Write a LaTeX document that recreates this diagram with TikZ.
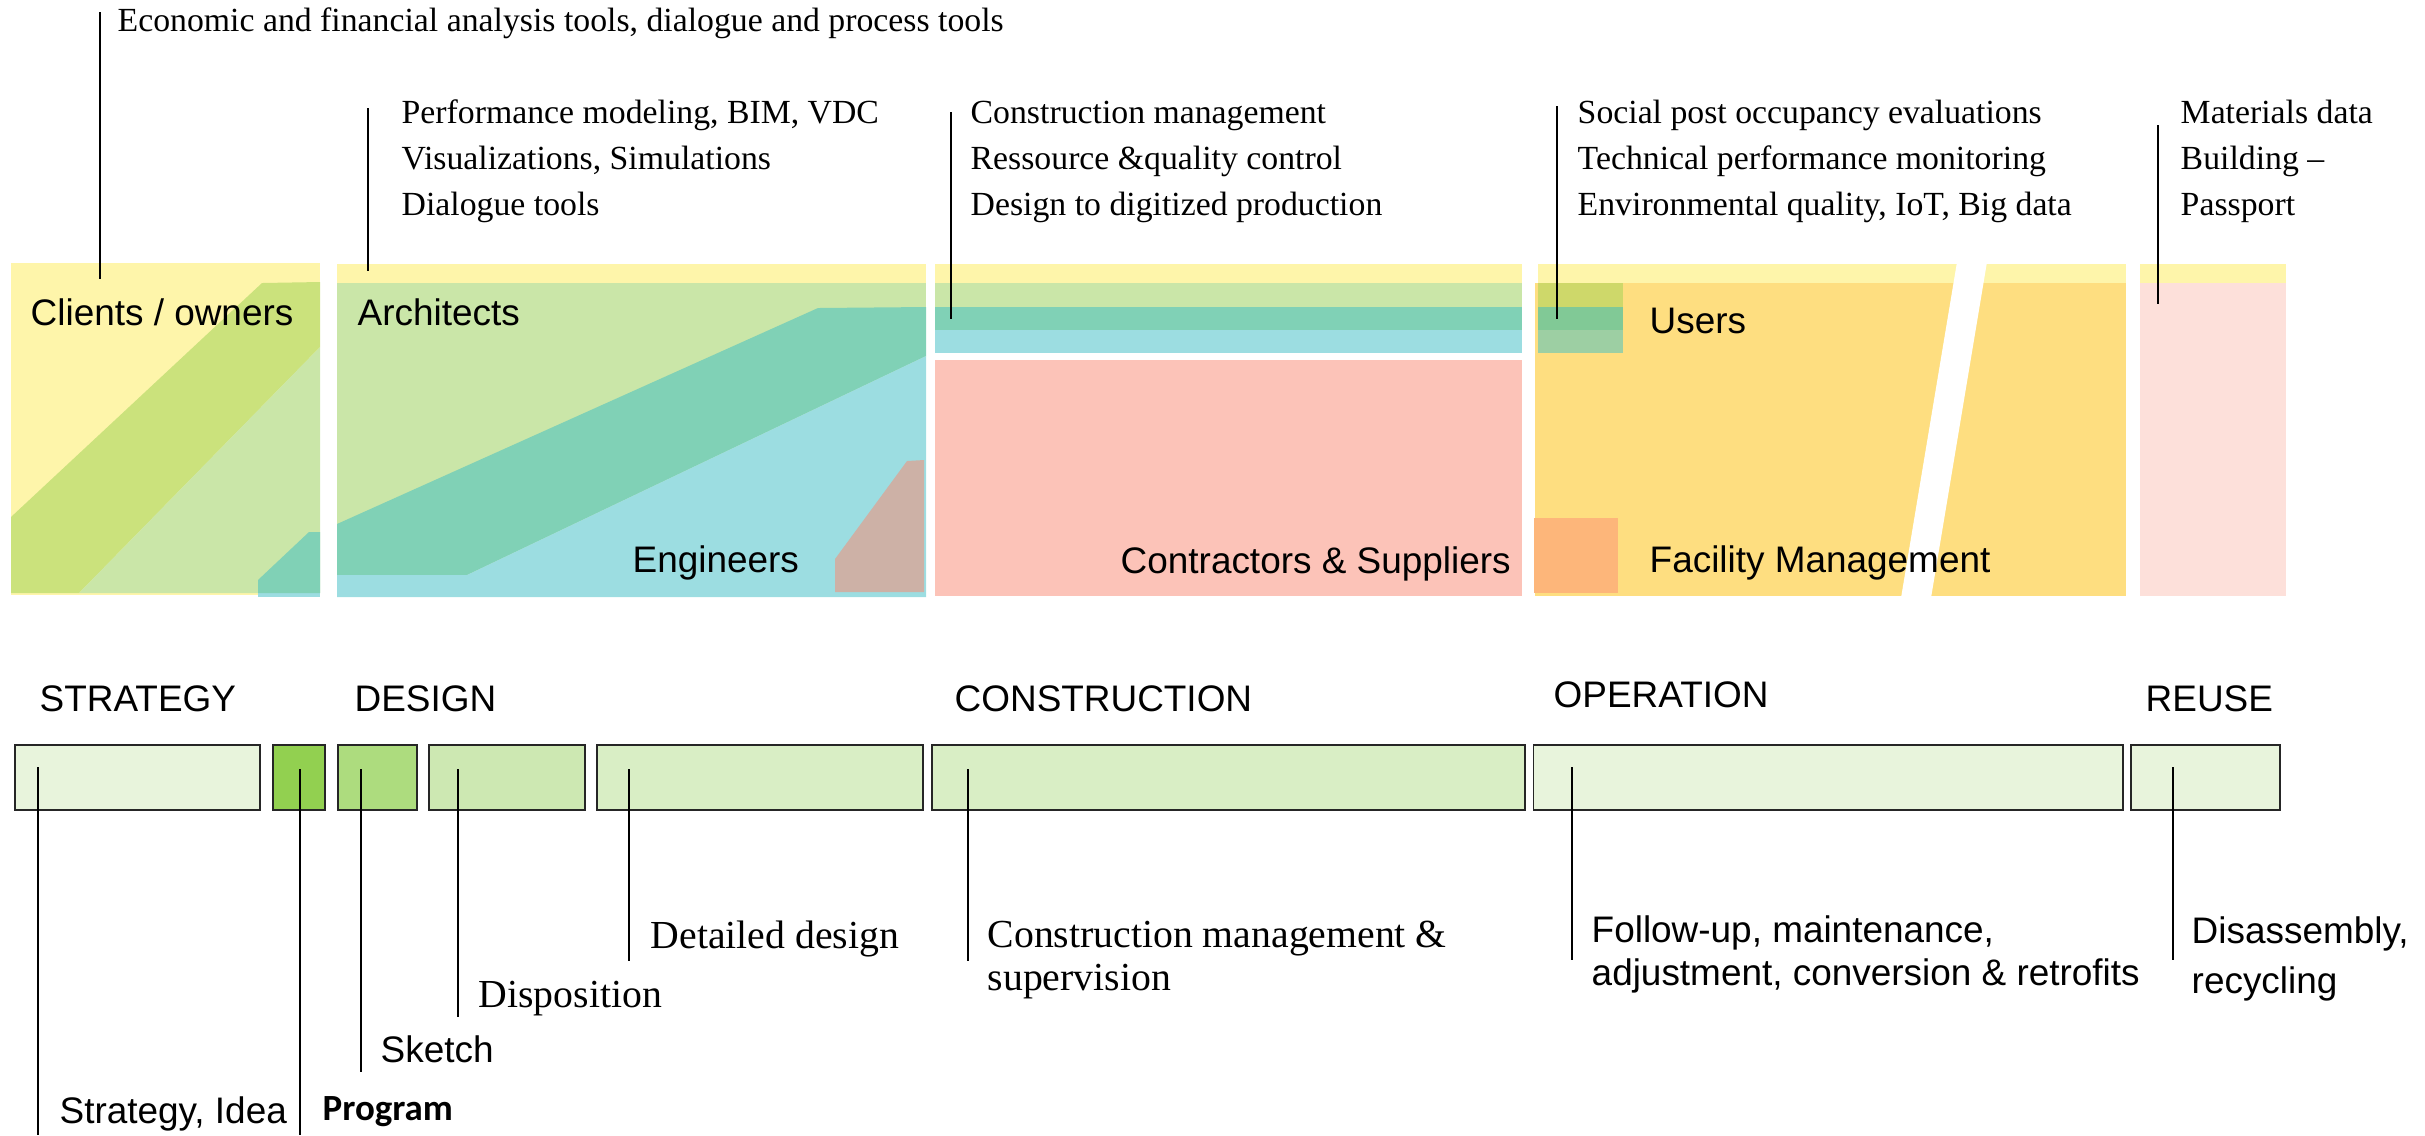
\documentclass[tikz,border=0pt]{standalone}
\usepackage{fontspec}
\setmainfont{Liberation Serif}
\setsansfont{Liberation Sans}
\newfontfamily\progfont{Carlito}
\usepackage{xcolor}
\usetikzlibrary{positioning}

\definecolor{strip}{HTML}{FEF5AA}
\definecolor{leafband}{HTML}{CBE27C}
\definecolor{leaf}{HTML}{CAE6A8}
\definecolor{sea}{HTML}{80D1B6}
\definecolor{sky}{HTML}{9CDDE1}
\definecolor{clay}{HTML}{CDB1A6}
\definecolor{salmon}{HTML}{FCC3B8}
\definecolor{sun}{HTML}{FEDE80}
\definecolor{olive}{HTML}{CED86A}
\definecolor{moss}{HTML}{81C996}
\definecolor{sage}{HTML}{9DCFA3}
\definecolor{peach}{HTML}{FDB67A}
\definecolor{blush}{HTML}{FDE0DA}
\definecolor{stagepale}{HTML}{E8F4DC}
\definecolor{stageprog}{HTML}{92D050}
\definecolor{stagesketch}{HTML}{ADDC7E}
\definecolor{stagedispo}{HTML}{CDE8B2}
\definecolor{stagemid}{HTML}{D9EEC5}

\begin{document}
\begin{tikzpicture}[
    x=0.01cm, y=-0.01cm,
    node distance=0.09cm,
    actor/.style={
        font=\fontsize{10.5}{12}\selectfont\sffamily,
        anchor=base west,
        inner sep=0pt,
        align=left
    },
    tool/.style={font=\fontsize{9.6}{13}\selectfont, anchor=base west, inner sep=0pt, align=left},
    stagenote/.style={font=\fontsize{11.3}{12}\selectfont, anchor=base west, inner sep=0pt, align=left},
    stage/.style={draw=black!85, line width=0.55pt, minimum height=0.65cm, inner sep=0pt, anchor=north west},
    lead/.style={line width=0.5pt}
]
\useasboundingbox (0,0) rectangle (2425,1135);

\fill[strip] (11,263) rectangle (320,595);
\fill[leafband] (262,283) -- (320,282) -- (320,347) -- (79,593) -- (11,593) -- (11,517) -- cycle;
\fill[leaf] (320,347) -- (320,593) -- (79,593) -- cycle;
\fill[sky] (258,593) rectangle (320,597);
\fill[sea] (309,532) -- (320,532) -- (320,593) -- (258,593) -- (258,580) -- cycle;

\fill[strip] (337,264) rectangle (926,283);
\fill[leaf] (337,283) rectangle (926,597);
\fill[sea] (337,524) -- (818,308) -- (926,307) -- (926,356) -- (467,575) -- (337,575) -- cycle;
\fill[sky] (337,575) -- (467,575) -- (926,356) -- (926,597) -- (337,597) -- cycle;
\fill[clay] (907,461) -- (924,460) -- (924,592) -- (835,592) -- (835,559) -- cycle;

\fill[strip] (935,264) rectangle (1522,283);
\fill[leaf] (935,283) rectangle (1522,307);
\fill[sea] (935,307) rectangle (1522,330);
\fill[sky] (935,330) rectangle (1522,353);
\fill[salmon] (935,360) rectangle (1522,596);

\fill[strip] (1538,264) rectangle (2126,283);
\fill[sun] (1535,283) rectangle (2126,596);
\fill[olive] (1538,283) rectangle (1623,307);
\fill[moss] (1538,307) rectangle (1623,330);
\fill[sage] (1538,330) rectangle (1623,353);
\fill[peach] (1534,518) rectangle (1618,593);
\fill[white] (1957,262) -- (1987,262) -- (1931,598) -- (1901,598) -- cycle;

\fill[strip] (2140,264) rectangle (2286,283);
\fill[blush] (2140,283) rectangle (2286,596);

\node[actor] (clients) at (30,325) {Clients / owners};
\node[actor] (architects) at (357,325) {Architects};
\node[actor] (engineers) at (632,572) {Engineers};
\node[actor] (contractors) at (1120,573) {Contractors \& Suppliers};
\node[actor] (users) at (1649,333) {Users};
\node[actor] (facility) at (1649,572) {Facility Management};

\node[tool] (econtools) at (117,31) {Economic and financial analysis tools, dialogue and process tools};
\node[tool] (designtools) at (401,215) {Performance modeling, BIM, VDC\\Visualizations, Simulations\\Dialogue tools};
\node[tool] (buildtools) at (970,215) {Construction management\\Ressource \&quality control\\Design to digitized production};
\node[tool] (usetools) at (1577,215) {Social post occupancy evaluations\\Technical performance monitoring\\Environmental quality, IoT, Big data};
\node[tool] (reusetools) at (2180,215) {Materials data\\Building –\\Passport};

\coordinate (econ top) at (100,12);
\coordinate (econ foot) at (100,279);
\coordinate (design top) at (368,108);
\coordinate (design foot) at (368,271);
\coordinate (build top) at (951,112);
\coordinate (build foot) at (951,319);
\coordinate (use top) at (1557,106);
\coordinate (use foot) at (1557,319);
\coordinate (reuse top) at (2158,125);
\coordinate (reuse foot) at (2158,304);
\draw[lead] (econ top) -- (econ foot);
\draw[lead] (design top) -- (design foot);
\draw[lead] (build top) -- (build foot);
\draw[lead] (use top) -- (use foot);
\draw[lead] (reuse top) -- (reuse foot);

\node[actor] (strategyphase) at (39,711) {STRATEGY};
\node[actor] (designphase) at (354,711) {DESIGN};
\node[actor] (constructionphase) at (954,711) {CONSTRUCTION};
\node[actor] (operationphase) at (1553,707) {OPERATION};
\node[actor] (reusephase) at (2145,711) {REUSE};

\node[stage, fill=stagepale, minimum width=2.45cm] (strategy) at (14,744) {};
\node[stage, fill=stageprog, minimum width=0.52cm, right=0.11cm of strategy] (program) {};
\node[stage, fill=stagesketch, minimum width=0.79cm, right=0.11cm of program] (sketch) {};
\node[stage, fill=stagedispo, minimum width=1.56cm, right=0.10cm of sketch] (disposition) {};
\node[stage, fill=stagemid, minimum width=3.26cm, right=0.10cm of disposition] (detailed) {};
\node[stage, fill=stagemid, minimum width=5.92cm, right=0.07cm of detailed] (construction) {};
\node[stage, fill=stagepale, minimum width=5.89cm, right=0.07cm of construction] (operation) {};
\node[stage, fill=stagepale, minimum width=1.49cm, right=0.06cm of operation] (reuse) {};

\node[actor] (idea) at (59,1123) {Strategy, Idea};
\node[actor, font=\fontsize{10.5}{12}\selectfont\progfont\bfseries] (programnote) at (322,1120) {Program};
\node[actor] (sketchnote) at (380,1062) {Sketch};
\node[stagenote] (disponote) at (478,1007) {Disposition};
\node[stagenote] (detailnote) at (650,948) {Detailed design};
\node[stagenote] (buildnote) at (987,990) {Construction management \&\\supervision};
\node[actor] (usenote) at (1591,985) {Follow-up, maintenance,\\adjustment, conversion \& retrofits};
\node[actor, font=\fontsize{10.5}{14.2}\selectfont\sffamily] (reusenote) at (2191,993) {Disassembly,\\recycling};

\coordinate (strategy tick) at (38,767);
\coordinate (strategy foot) at (38,1135);
\coordinate (program tick) at (300,769);
\coordinate (program foot) at (300,1135);
\coordinate (sketch tick) at (361,769);
\coordinate (sketch foot) at (361,1072);
\coordinate (dispo tick) at (458,769);
\coordinate (dispo foot) at (458,1017);
\coordinate (detail tick) at (629,769);
\coordinate (detail foot) at (629,961);
\coordinate (build tick) at (968,769);
\coordinate (build end) at (968,961);
\coordinate (use tick) at (1572,767);
\coordinate (use end) at (1572,960);
\coordinate (reuse tick) at (2173,767);
\coordinate (reuse end) at (2173,960);
\draw[lead] (strategy tick) -- (strategy foot);
\draw[lead] (program tick) -- (program foot);
\draw[lead] (sketch tick) -- (sketch foot);
\draw[lead] (dispo tick) -- (dispo foot);
\draw[lead] (detail tick) -- (detail foot);
\draw[lead] (build tick) -- (build end);
\draw[lead] (use tick) -- (use end);
\draw[lead] (reuse tick) -- (reuse end);

\end{tikzpicture}
\end{document}
